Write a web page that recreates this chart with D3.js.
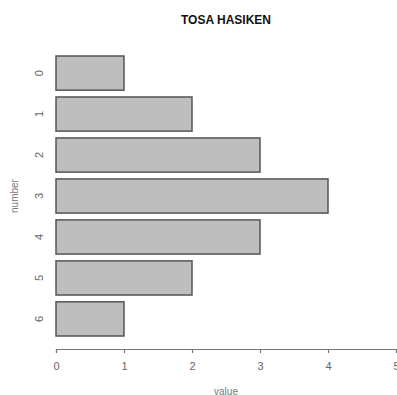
<!DOCTYPE html>
<html>
<head>
<meta charset="utf-8">
<script src="https://cdn.jsdelivr.net/npm/d3@7"></script>
<style>
  html, body { margin: 0; padding: 0; background: #fff; }
  svg { display: block; font-family: "Liberation Sans", Arial, sans-serif; }
</style>
</head>
<body>
<svg id="chart" width="397" height="395"></svg>
<script>
// Counts per number
const categories = ["0", "1", "2", "3", "4", "5", "6"];
const values = [1, 2, 3, 4, 3, 2, 1];
const xTicks = [0, 1, 2, 3, 4, 5];
const title = "TOSA HASIKEN";
const xLabel = "value";
const yLabel = "number";

const svg = d3.select("#chart");

const x = d3.scaleLinear().domain([0, 5]).range([56, 396]);
const y = d3.scaleBand()
  .domain(categories)
  .range([56, 336])
  .paddingInner(0.2 / 1.2)
  .paddingOuter(0);

// Bars
svg.append("g")
  .selectAll("rect")
  .data(values)
  .join("rect")
  .attr("x", x(0))
  .attr("y", (d, i) => y(categories[i]))
  .attr("width", d => x(d) - x(0))
  .attr("height", y.bandwidth())
  .attr("fill", "#bebebe")
  .attr("stroke", "#555")
  .attr("stroke-width", 1.5);

// Value axis
const xAxis = svg.append("g")
  .attr("transform", "translate(0,349)")
  .call(d3.axisBottom(x).tickValues(xTicks).tickFormat(d3.format("d")).tickSize(4).tickPadding(9));
xAxis.select(".domain").attr("stroke", "#777").attr("stroke-width", 1.2);
xAxis.selectAll(".tick line").attr("stroke", "#777").attr("stroke-width", 1.2);
xAxis.selectAll(".tick text").attr("fill", "#666").attr("font-size", 11);

// Category labels (rotated, no axis line)
svg.append("g")
  .selectAll("text")
  .data(categories)
  .join("text")
  .attr("transform", d => `translate(43,${y(d) + y.bandwidth() / 2}) rotate(-90)`)
  .attr("text-anchor", "middle")
  .attr("fill", "#666")
  .attr("font-size", 11)
  .text(d => d);

// Title
svg.append("text")
  .attr("x", 226)
  .attr("y", 24)
  .attr("text-anchor", "middle")
  .attr("font-weight", "bold")
  .attr("font-size", 12)
  .attr("fill", "#111")
  .text(title);

// Axis titles
svg.append("text")
  .attr("x", 226)
  .attr("y", 395)
  .attr("text-anchor", "middle")
  .attr("fill", "#777")
  .attr("font-size", 10)
  .text(xLabel);

svg.append("text")
  .attr("transform", "translate(18,196) rotate(-90)")
  .attr("text-anchor", "middle")
  .attr("fill", "#777")
  .attr("font-size", 10)
  .text(yLabel);
</script>
</body>
</html>
